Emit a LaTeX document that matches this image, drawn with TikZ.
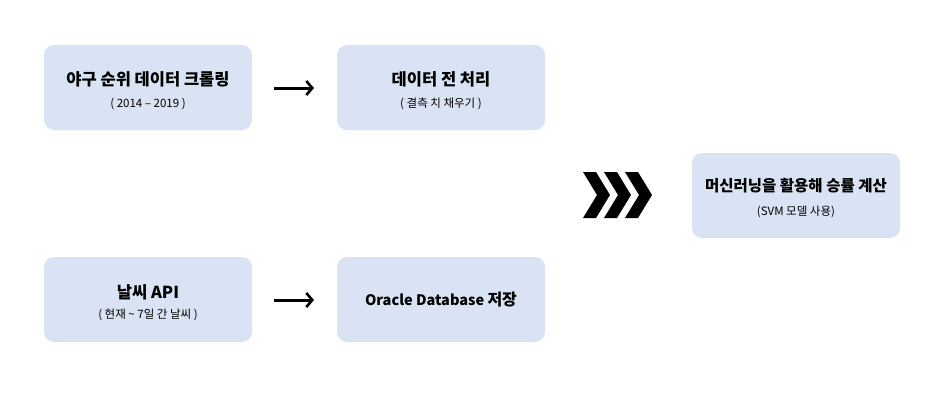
\documentclass[tikz,border=0pt]{standalone}
\usepackage{fontspec}
\setmainfont{Noto Sans CJK KR}
\usetikzlibrary{arrows.meta}
\definecolor{boxfill}{HTML}{DAE3F3}
\tikzset{
  card/.style={fill=boxfill, draw=none, rounded corners=10pt, minimum width=208pt, minimum height=85pt, inner sep=0pt},
  ttl/.style={font=\fontsize{16.5}{18}\selectfont\bfseries, inner sep=0pt},
  sub/.style={font=\fontsize{11.5}{13}\selectfont, inner sep=0pt},
  flow/.style={line width=3pt, -{Straight Barb[length=6pt,width=14pt,line width=2.6pt]}},
  chev/.style={fill=black, draw=none}
}
\begin{document}
\begin{tikzpicture}[x=1pt,y=-1pt]
\useasboundingbox (0,0) rectangle (940,402);
\node[card] (b1) at (148,87.5) {};
\node[card] (b2) at (441,87.5) {};
\node[card] (b3) at (148,299.5) {};
\node[card] (b4) at (441,299.5) {};
\node[card] (b5) at (796,195.5) {};
\node[ttl] (t1) at (148,79) {야구 순위 데이터 크롤링};
\node[sub] (s1) at (148,104) {( 2014 – 2019 )};
\node[ttl] (t2) at (441,79) {데이터 전 처리};
\node[sub] (s2) at (441,104) {( 결측 치 채우기 )};
\node[ttl] (t3) at (148,292) {날씨 API};
\node[sub] (s3) at (148,315) {( 현재 \textasciitilde\ 7일 간 날씨 )};
\node[ttl, font=\fontsize{14.5}{16}\selectfont\bfseries] (t4) at (441,300) {Oracle Database {\fontsize{16}{18}\selectfont 저장}};
\node[ttl, font=\fontsize{15.5}{17}\selectfont\bfseries] (t5) at (796,186) {머신러닝을 활용해 승률 계산};
\node[sub] (s5) at (796,212) {(SVM 모델 사용)};
\coordinate (a1s) at (274,88);
\coordinate (a1e) at (314,88);
\coordinate (a2s) at (274,300);
\coordinate (a2e) at (314,300);
\draw[flow] (a1s) -- (a1e);
\draw[flow] (a2s) -- (a2e);
\foreach \L in {583,604,625}{
  \fill[chev] (\L,172) -- (\L+13,172) -- (\L+27,195) -- (\L+13,218) -- (\L,218) -- (\L+14,195) -- cycle;
}
\end{tikzpicture}
\end{document}
